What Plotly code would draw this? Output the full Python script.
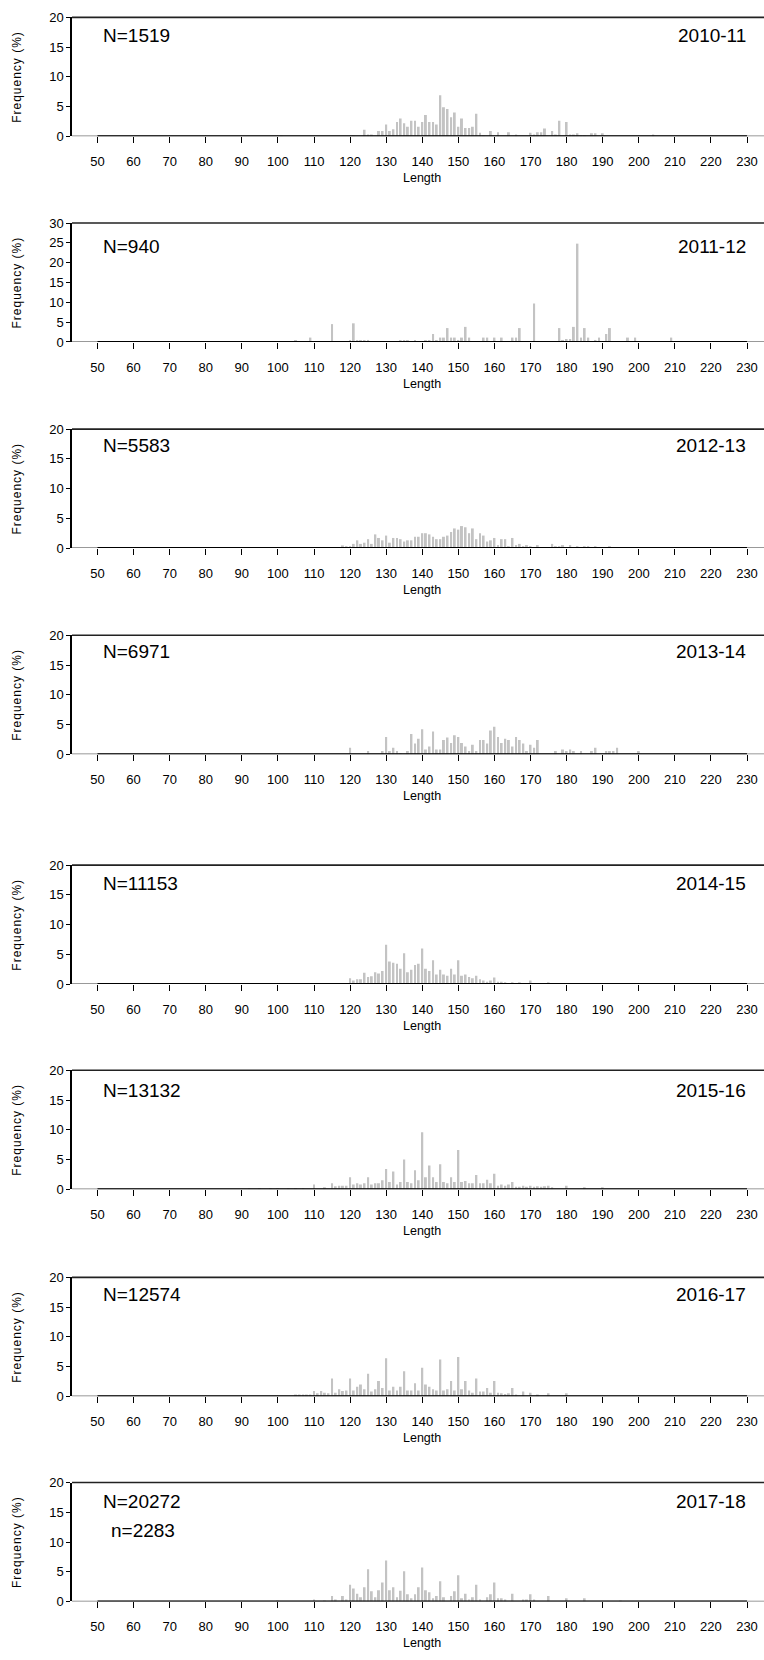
import plotly.graph_objects as go

# ---------------- data ----------------
seasons = ["2010-11", "2011-12", "2012-13", "2013-14", "2014-15", "2015-16", "2016-17", "2017-18"]
n_labels = ["N=1519", "N=940", "N=5583", "N=6971", "N=11153", "N=13132", "N=12574", "N=20272"]
sub_label = "n=2283"
y_max = [20, 30, 20, 20, 20, 20, 20, 20]
x_ticks = list(range(50, 231, 10))
y_title = "Frequency (%)"
x_title = "Length"

len_2010 = [101, 121, 124, 125, 126, 128, 129, 130, 131, 132, 133, 134, 135, 136, 137, 138, 139, 140, 141, 142,
            143, 144, 145, 146, 147, 148, 149, 150, 151, 152, 153, 154, 155, 156, 157, 159, 161, 164, 166, 170,
            171, 172, 173, 174, 176, 177, 178, 180, 181, 182, 183, 184, 185, 187, 188, 190, 204]
freq_2010 = [0.1, 0.1, 1.1, 0.3, 0.2, 0.9, 0.9, 2.0, 0.9, 1.2, 2.4, 3.0, 2.2, 1.6, 2.6, 2.6, 1.6, 2.4, 3.6, 2.4,
             2.4, 2.0, 6.9, 4.9, 4.6, 3.2, 4.0, 1.6, 3.0, 1.4, 1.4, 1.6, 3.8, 0.6, 0.15, 0.9, 0.7, 0.7, 0.3, 0.6,
             0.3, 0.7, 0.7, 1.3, 0.9, 0.3, 2.6, 2.4, 0.3, 0.3, 0.5, 0.15, 0.1, 0.5, 0.5, 0.5, 0.3]

len_2011 = [105, 109, 115, 120, 121, 122, 123, 124, 125, 127, 134, 135, 136, 138, 141, 142, 143, 144, 145, 146,
            147, 148, 149, 150, 151, 152, 153, 157, 158, 160, 162, 165, 166, 167, 171, 178, 179, 180, 181, 182,
            183, 184, 185, 186, 188, 189, 191, 192, 197, 199, 209]
freq_2011 = [0.25, 1.1, 4.5, 0.25, 4.7, 0.25, 0.25, 0.25, 0.5, 0.2, 0.25, 0.25, 0.25, 0.25, 0.25, 0.25, 2.0, 0.3, 1.1, 1.1,
             3.5, 1.1, 1.1, 0.5, 1.1, 3.8, 1.1, 1.1, 1.1, 1.1, 1.1, 1.1, 1.1, 3.5, 9.7, 3.5, 0.5, 0.75, 0.75, 3.8,
             24.8, 1.1, 3.5, 1.1, 0.5, 1.1, 2.0, 3.5, 1.1, 1.1, 1.1]

len_2012 = [100, 104, 106, 107, 108, 109, 110, 111, 112, 113, 114, 115, 116, 118, 119, 120, 121, 122, 123, 124,
            125, 126, 127, 128, 129, 130, 131, 132, 133, 134, 135, 136, 137, 138, 139, 140, 141, 142, 143, 144,
            145, 146, 147, 148, 149, 150, 151, 152, 153, 154, 155, 156, 157, 158, 159, 160, 161, 162, 163, 164,
            165, 166, 167, 168, 169, 170, 172, 174, 176, 177, 178, 179, 181, 183, 185, 186, 188, 191, 192]
freq_2012 = [0.1, 0.1, 0.1, 0.1, 0.1, 0.1, 0.1, 0.1, 0.1, 0.1, 0.1, 0.1, 0.1, 0.45, 0.3, 0.3, 0.7, 1.3, 0.7, 0.9,
             1.5, 0.7, 2.3, 1.7, 1.3, 2.1, 0.9, 1.7, 1.7, 1.5, 1.1, 1.3, 1.3, 1.9, 1.9, 2.5, 2.5, 2.3, 1.9, 1.5,
             1.5, 1.9, 2.1, 2.7, 3.3, 3.1, 3.7, 3.5, 2.5, 3.3, 1.5, 2.5, 2.1, 1.1, 1.3, 1.7, 0.5, 1.5, 1.5, 0.3,
             1.7, 0.5, 0.7, 0.3, 0.5, 0.3, 0.5, 0.1, 0.7, 0.3, 0.3, 0.5, 0.5, 0.3, 0.3, 0.3, 0.3, 0.1, 0.3]

len_2013 = [120, 125, 129, 130, 131, 132, 133, 134, 136, 137, 138, 139, 140, 141, 142, 143, 144, 145, 146, 147,
            148, 149, 150, 151, 152, 153, 154, 155, 156, 157, 158, 159, 160, 161, 162, 163, 164, 165, 166, 167,
            168, 169, 170, 171, 172, 177, 179, 180, 181, 182, 184, 187, 188, 191, 192, 193, 194, 200]
freq_2013 = [1.1, 0.55, 0.55, 2.9, 0.55, 1.1, 0.55, 0.15, 0.55, 3.4, 1.8, 2.6, 4.2, 0.8, 1.3, 3.8, 0.8, 0.8, 2.4, 2.8,
             1.9, 3.2, 2.9, 1.9, 1.3, 0.55, 1.6, 0.55, 2.4, 2.4, 1.8, 4.0, 4.6, 2.9, 1.9, 2.6, 2.4, 1.3, 2.9, 2.4,
             1.8, 0.55, 1.6, 1.1, 2.4, 0.55, 0.8, 0.55, 0.8, 0.55, 0.55, 0.55, 1.1, 0.55, 0.55, 0.55, 1.1, 0.55]

len_2014 = [120, 121, 122, 123, 124, 125, 126, 127, 128, 129, 130, 131, 132, 133, 134, 135, 136, 137, 138, 139,
            140, 141, 142, 143, 144, 145, 146, 147, 148, 149, 150, 151, 152, 153, 154, 155, 156, 157, 158, 159,
            160, 161, 162, 163, 165, 167, 170, 175]
freq_2014 = [1.0, 0.6, 0.8, 0.8, 1.9, 1.2, 1.3, 2.0, 1.8, 2.2, 6.6, 3.8, 3.6, 3.4, 2.6, 5.2, 2.0, 2.4, 3.2, 3.4,
             6.0, 2.6, 2.2, 4.0, 1.6, 2.4, 1.6, 1.4, 2.6, 1.6, 4.0, 1.4, 1.6, 1.2, 1.0, 1.4, 0.8, 0.6, 0.4, 0.6,
             1.1, 0.4, 0.4, 0.2, 0.3, 0.2, 0.6, 0.2]

len_2015 = [92, 95, 98, 100, 103, 105, 107, 110, 113, 115, 116, 117, 118, 119, 120, 121, 122, 123, 124, 125,
            126, 127, 128, 129, 130, 131, 132, 133, 134, 135, 136, 137, 138, 139, 140, 141, 142, 143, 144, 145,
            146, 147, 148, 149, 150, 151, 152, 153, 154, 155, 156, 157, 158, 159, 160, 161, 162, 163, 164, 165,
            166, 167, 168, 169, 170, 171, 172, 173, 174, 175, 176, 180, 185, 190]
freq_2015 = [0.1, 0.1, 0.1, 0.1, 0.1, 0.1, 0.1, 0.8, 0.2, 1.0, 0.5, 0.6, 0.6, 0.6, 2.0, 0.8, 1.0, 0.8, 1.0, 2.0,
             0.8, 1.0, 1.0, 1.5, 3.4, 1.2, 3.0, 0.8, 1.2, 5.0, 1.2, 1.0, 3.2, 1.5, 9.6, 2.0, 4.0, 2.0, 1.2, 4.2,
             1.2, 1.0, 2.0, 1.2, 6.6, 1.2, 1.4, 1.0, 1.0, 2.4, 1.0, 1.0, 1.6, 1.0, 2.6, 0.6, 0.8, 0.6, 0.8, 1.2,
             0.4, 0.4, 0.6, 0.4, 0.6, 0.4, 0.5, 0.4, 0.5, 0.6, 0.2, 0.6, 0.2, 0.2]

len_2016 = [105, 106, 107, 108, 109, 110, 111, 112, 113, 114, 115, 116, 117, 118, 119, 120, 121, 122, 123, 124,
            125, 126, 127, 128, 129, 130, 131, 132, 133, 134, 135, 136, 137, 138, 139, 140, 141, 142, 143, 144,
            145, 146, 147, 148, 149, 150, 151, 152, 153, 154, 155, 156, 157, 158, 159, 160, 161, 162, 163, 164,
            165, 166, 168, 170, 172, 175, 180]
freq_2016 = [0.2, 0.2, 0.2, 0.2, 0.2, 0.9, 0.5, 0.9, 0.6, 0.5, 3.0, 0.6, 1.2, 0.9, 1.0, 3.0, 1.0, 1.6, 2.0, 1.2,
             3.8, 0.8, 1.2, 2.6, 1.4, 6.4, 1.0, 1.6, 1.0, 1.6, 4.2, 1.0, 1.0, 2.2, 1.0, 4.8, 2.0, 1.6, 1.2, 1.0,
             6.2, 1.0, 1.2, 2.6, 1.0, 6.6, 1.2, 2.6, 1.0, 0.6, 3.0, 0.8, 0.8, 1.4, 0.6, 2.6, 0.6, 0.5, 0.4, 0.5,
             1.4, 0.3, 0.8, 0.6, 0.3, 0.5, 0.5]

len_2017 = [100, 110, 113, 115, 116, 118, 119, 120, 121, 122, 123, 124, 125, 126, 127, 128, 129, 130, 131, 132,
            133, 134, 135, 136, 137, 138, 139, 140, 141, 142, 143, 144, 145, 146, 148, 149, 150, 151, 152, 153,
            154, 155, 156, 158, 159, 160, 161, 162, 163, 165, 168, 169, 170, 171, 175, 180, 185, 195]
freq_2017 = [0.15, 0.33, 0.1, 0.9, 0.33, 0.9, 0.33, 2.8, 2.2, 1.3, 0.7, 2.4, 5.4, 1.7, 0.7, 1.9, 3.2, 6.9, 1.9, 2.4,
             0.7, 1.8, 5.1, 1.2, 0.55, 1.2, 2.4, 5.7, 1.9, 1.55, 0.55, 0.9, 3.4, 0.7, 0.9, 1.7, 4.4, 0.55, 1.3, 0.33,
             0.7, 2.8, 0.33, 0.7, 1.2, 3.2, 0.55, 0.55, 0.33, 1.3, 0.33, 0.33, 1.2, 0.33, 0.9, 0.55, 0.55, 0.15]

lengths = [len_2010, len_2011, len_2012, len_2013, len_2014, len_2015, len_2016, len_2017]
freqs = [freq_2010, freq_2011, freq_2012, freq_2013, freq_2014, freq_2015, freq_2016, freq_2017]

# ---------------- layout constants (pixels) ----------------
W, H = 764, 1660
panel_top = [10.5, 218, 426, 634, 866, 1073, 1282, 1489]
panel_h = 120
plot_left = 72
x_range = [42.93, 234.71]
label_off = [18, 24, 17, 16, 18.5, 20, 17, 19]
FONT = "Arial, Liberation Sans, Helvetica, sans-serif"
BAR_COLOR = "#c3c3c3"

fig = go.Figure()
layout = dict(
    width=W, height=H, margin=dict(l=0, r=0, t=0, b=0),
    paper_bgcolor="white", plot_bgcolor="white", showlegend=False,
    font=dict(family=FONT, size=13, color="black"),
)
shapes, annotations = [], []

for i in range(8):
    k = "" if i == 0 else str(i + 1)
    top = panel_top[i]
    bot = top + panel_h
    d0, d1 = 1 - bot / H, 1 - top / H
    fig.add_trace(go.Bar(x=lengths[i], y=freqs[i], marker=dict(color=BAR_COLOR, line=dict(width=0)),
                         width=0.55, xaxis="x" + k, yaxis="y" + k, hoverinfo="x+y"))
    layout["xaxis" + k] = dict(
        domain=[plot_left / W, 1], range=x_range, anchor="y" + k,
        tickmode="array", tickvals=x_ticks, ticktext=[str(v) for v in x_ticks],
        ticks="outside", ticklen=6, tickwidth=1.3, tickcolor="black",
        showline=False, showgrid=False, zeroline=False,
        tickfont=dict(size=13, family=FONT, color="black"), ticklabelstandoff=7,
    )
    layout["yaxis" + k] = dict(
        domain=[d0, d1], range=[0, y_max[i]], anchor="x" + k,
        tickmode="array", tickvals=list(range(0, y_max[i] + 1, 5)),
        ticks="outside", ticklen=4, tickwidth=1.2, tickcolor="black",
        showline=True, linecolor="black", linewidth=1.5,
        showgrid=False, zeroline=False,
        tickfont=dict(size=13, family=FONT, color="black"),
    )
    # top border of the box
    shapes.append(dict(type="line", xref="paper", yref="y" + k + " domain",
                       x0=plot_left / W, x1=1, y0=1, y1=1, line=dict(color="#222222", width=1.6)))
    # bottom border (grey) and black axis line between first and last tick
    shapes.append(dict(type="line", xref="paper", yref="y" + k,
                       x0=plot_left / W, x1=1, y0=0, y1=0, line=dict(color="#777777", width=1.6)))
    shapes.append(dict(type="line", xref="x" + k, yref="y" + k,
                       x0=x_ticks[0], x1=x_ticks[-1], y0=0, y1=0, line=dict(color="black", width=2)))
    # texts
    ly = 1 - (top + label_off[i]) / H
    annotations.append(dict(text=n_labels[i], xref="paper", yref="paper", x=101 / W, y=ly,
                            xanchor="left", yanchor="middle", showarrow=False,
                            font=dict(size=19, family=FONT, color="black")))
    annotations.append(dict(text=seasons[i], xref="paper", yref="paper", x=748 / W, y=ly,
                            xanchor="right", yanchor="middle", showarrow=False,
                            font=dict(size=19, family=FONT, color="black")))
    if i == 7:
        annotations.append(dict(text=sub_label, xref="paper", yref="paper", x=109 / W,
                                y=1 - (top + 48) / H, xanchor="left", yanchor="middle", showarrow=False,
                                font=dict(size=19, family=FONT, color="black")))
    annotations.append(dict(text='<span style="letter-spacing:1px">' + y_title + '</span>',
                            xref="paper", yref="paper", x=17 / W, y=(d0 + d1) / 2,
                            xanchor="center", yanchor="middle", textangle=-90, showarrow=False,
                            font=dict(size=12, family=FONT, color="black")))
    annotations.append(dict(text=x_title, xref="paper", yref="paper", x=422 / W, y=1 - (bot + 42) / H,
                            xanchor="center", yanchor="middle", showarrow=False,
                            font=dict(size=12.5, family=FONT, color="black")))

layout["shapes"] = shapes
layout["annotations"] = annotations
fig.update_layout(**layout)
fig.write_html("out.html", config={"displayModeBar": False},
               post_script="document.body.style.margin='0px';")
